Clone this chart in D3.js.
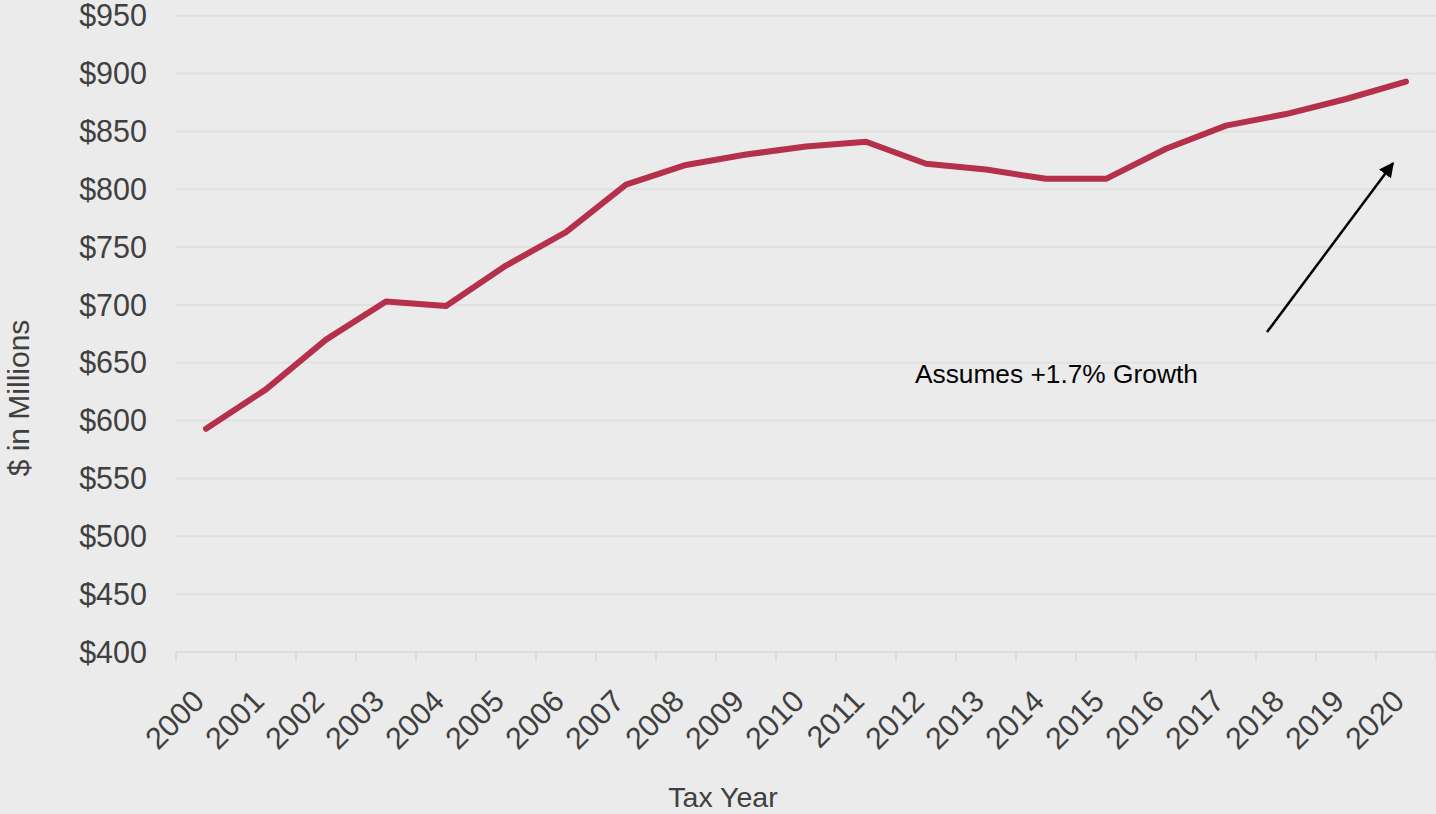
<!DOCTYPE html>
<html>
<head>
<meta charset="utf-8">
<script src="https://cdn.jsdelivr.net/npm/d3@7"></script>
<style>
  html, body { margin: 0; padding: 0; background: #ebebeb; }
  svg { display: block; }
</style>
</head>
<body>
<script>
// Tax years and revenue ($ in millions)
const years = ["2000","2001","2002","2003","2004","2005","2006","2007","2008","2009","2010",
               "2011","2012","2013","2014","2015","2016","2017","2018","2019","2020"];
const revenue = [593, 627, 670, 703, 699, 734, 763, 804, 821, 830, 837,
                 841, 822, 817, 809, 809, 835, 855, 865, 878, 893];
const yTicks = [400, 450, 500, 550, 600, 650, 700, 750, 800, 850, 900, 950];
const note = "Assumes +1.7% Growth";

const W = 1436, H = 814;
const margin = { top: 15.7, right: 0, bottom: 162, left: 176 };

const svg = d3.select("body").append("svg")
  .attr("width", W).attr("height", H);

svg.append("rect").attr("width", W).attr("height", H).attr("fill", "#ebebeb");

const x = d3.scaleBand().domain(years).range([margin.left, W - margin.right]);
const y = d3.scaleLinear().domain([400, 950]).range([H - margin.bottom, margin.top]);

const fontTick = "'Liberation Sans', Arial, sans-serif";
const textCol = "#404040";
const gridCol = "#e0e0e0";

// horizontal gridlines
svg.append("g").selectAll("line").data(yTicks.filter(d => d !== 400)).join("line")
  .attr("x1", margin.left).attr("x2", W)
  .attr("y1", d => y(d)).attr("y2", d => y(d))
  .attr("stroke", gridCol).attr("stroke-width", 2);

// x axis: baseline with category boundary ticks
const xAxis = svg.append("g");
xAxis.append("line")
  .attr("x1", margin.left).attr("x2", W)
  .attr("y1", y(400)).attr("y2", y(400))
  .attr("stroke", "#dcdcdc").attr("stroke-width", 2);
const bounds = years.map(d => x(d)).concat([x(years[years.length - 1]) + x.step()]);
xAxis.selectAll("line.tick").data(bounds).join("line")
  .attr("class", "tick")
  .attr("x1", d => d).attr("x2", d => d)
  .attr("y1", y(400)).attr("y2", y(400) + 9)
  .attr("stroke", "#dcdcdc").attr("stroke-width", 2);

// x tick labels, rotated
xAxis.selectAll("text").data(years).join("text")
  .attr("transform", d => `translate(${x(d) + x.bandwidth() / 2},703) rotate(-45)`)
  .attr("text-anchor", "end")
  .attr("font-family", fontTick).attr("font-size", 30.5)
  .attr("fill", textCol)
  .text(d => d);

// y tick labels
svg.append("g").selectAll("text").data(yTicks).join("text")
  .attr("x", 147).attr("y", d => y(d)).attr("dy", "0.35em")
  .attr("text-anchor", "end")
  .attr("font-family", fontTick).attr("font-size", 30.5)
  .attr("fill", textCol)
  .text(d => "$" + d);

// axis titles
svg.append("text")
  .attr("transform", "translate(29,398) rotate(-90)")
  .attr("text-anchor", "middle")
  .attr("font-family", fontTick).attr("font-size", 30)
  .attr("fill", textCol)
  .text("$ in Millions");

svg.append("text")
  .attr("x", 723).attr("y", 807)
  .attr("text-anchor", "middle")
  .attr("font-family", fontTick).attr("font-size", 28.5)
  .attr("fill", textCol)
  .text("Tax Year");

// revenue line
const line = d3.line()
  .x((d, i) => x(years[i]) + x.bandwidth() / 2)
  .y(d => y(d));

svg.append("path")
  .datum(revenue)
  .attr("d", line)
  .attr("fill", "none")
  .attr("stroke", "#b5304b")
  .attr("stroke-width", 6)
  .attr("stroke-linejoin", "round")
  .attr("stroke-linecap", "round");

// growth annotation arrow
svg.append("defs").append("marker")
  .attr("id", "arrowhead")
  .attr("viewBox", "0 0 10 10")
  .attr("refX", 9).attr("refY", 5)
  .attr("markerWidth", 6).attr("markerHeight", 6)
  .attr("markerUnits", "strokeWidth")
  .attr("orient", "auto")
  .append("path").attr("d", "M0,0 L10,5 L0,10 Z").attr("fill", "#000");

const x2020 = x("2020") + x.bandwidth() / 2;
svg.append("line")
  .attr("x1", x2020 - 139).attr("y1", y(676.5))
  .attr("x2", x2020 - 13).attr("y2", y(822.5))
  .attr("stroke", "#000").attr("stroke-width", 2.5)
  .attr("marker-end", "url(#arrowhead)");

svg.append("text")
  .attr("x", 915).attr("y", 383)
  .attr("font-family", fontTick).attr("font-size", 26.3)
  .attr("fill", "#000")
  .text(note);
</script>
</body>
</html>
